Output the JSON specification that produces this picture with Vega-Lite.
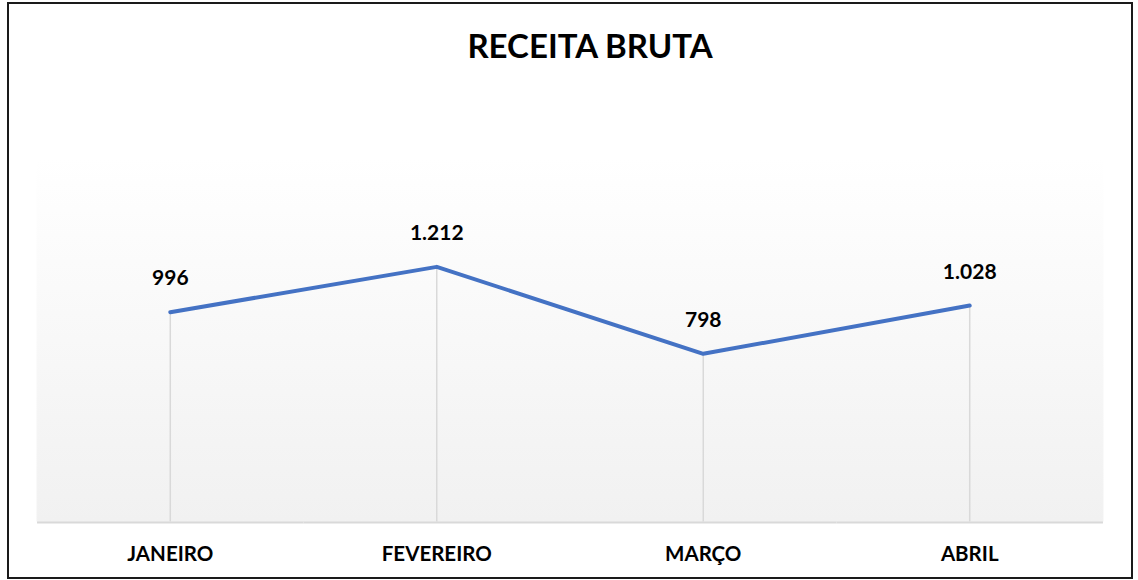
{
  "$schema": "https://vega.github.io/schema/vega-lite/v6.json",
  "autosize": {"type": "none"},
  "width": 1124,
  "height": 575,
  "padding": {"left": 8, "top": 3, "right": 6, "bottom": 2},
  "background": "#ffffff",
  "config": {
    "view": {"stroke": "#1a1a1a", "strokeWidth": 2},
    "font": "Lato"
  },
  "title": {
    "text": "RECEITA BRUTA",
    "font": "Lato",
    "fontSize": 33,
    "fontWeight": "bold",
    "color": "#000000",
    "anchor": "middle",
    "frame": "group",
    "baseline": "alphabetic",
    "offset": -88,
    "dx": 20
  },
  "data": {
    "values": [
      {"mes": "JANEIRO", "valor": 996, "rotulo": "996"},
      {"mes": "FEVEREIRO", "valor": 1212, "rotulo": "1.212"},
      {"mes": "MARÇO", "valor": 798, "rotulo": "798"},
      {"mes": "ABRIL", "valor": 1028, "rotulo": "1.028"}
    ]
  },
  "encoding": {
    "x": {
      "field": "mes",
      "type": "nominal",
      "sort": null,
      "scale": {"type": "band", "paddingInner": 0, "paddingOuter": 0.109},
      "axis": {
        "title": null,
        "offset": -57,
        "domain": false,
        "ticks": false,
        "tickSize": 0,
        "labelAngle": 0,
        "labelFont": "Lato",
        "labelFontSize": 20.5,
        "labelFontWeight": "bold",
        "labelColor": "#000000",
        "labelPadding": 23,
        "labelBaseline": "top",
        "grid": false
      }
    }
  },
  "layer": [
    {
      "mark": {
        "type": "rect",
        "strokeWidth": 1,
        "fill": {
          "gradient": "linear",
          "x1": 0, "y1": 0, "x2": 0, "y2": 1,
          "stops": [
            {"offset": 0, "color": "#ffffff"},
            {"offset": 1, "color": "#f1f1f1"}
          ]
        },
        "stroke": {
          "gradient": "linear",
          "x1": 0, "y1": 0, "x2": 0, "y2": 1,
          "stops": [
            {"offset": 0, "color": "#ffffff"},
            {"offset": 1, "color": "#f1f1f1"}
          ]
        }
      },
      "encoding": {
        "y": {"datum": 1735, "type": "quantitative", "scale": {"domain": [-269, 2468], "zero": false, "nice": false}, "axis": null},
        "y2": {"datum": 0}
      }
    },
    {
      "mark": {"type": "rect", "fill": "#d9d9d9"},
      "encoding": {
        "y": {"datum": 0, "type": "quantitative", "scale": {"domain": [-269, 2468], "zero": false, "nice": false}, "axis": null},
        "y2": {"datum": -9}
      }
    },
    {
      "mark": {"type": "rule", "color": "#d9d9d9", "strokeWidth": 1.5},
      "encoding": {
        "y": {"field": "valor", "type": "quantitative", "scale": {"domain": [-269, 2468], "zero": false, "nice": false}, "axis": null},
        "y2": {"datum": 0}
      }
    },
    {
      "mark": {"type": "line", "color": "#4472c4", "strokeWidth": 4, "strokeCap": "round", "strokeJoin": "round"},
      "encoding": {
        "y": {"field": "valor", "type": "quantitative", "scale": {"domain": [-269, 2468], "zero": false, "nice": false}, "axis": null}
      }
    },
    {
      "mark": {"type": "text", "font": "Lato", "fontSize": 21, "fontWeight": "bold", "color": "#000000", "baseline": "bottom", "dy": -23},
      "encoding": {
        "y": {"field": "valor", "type": "quantitative", "scale": {"domain": [-269, 2468], "zero": false, "nice": false}, "axis": null},
        "text": {"field": "rotulo"}
      }
    }
  ]
}
